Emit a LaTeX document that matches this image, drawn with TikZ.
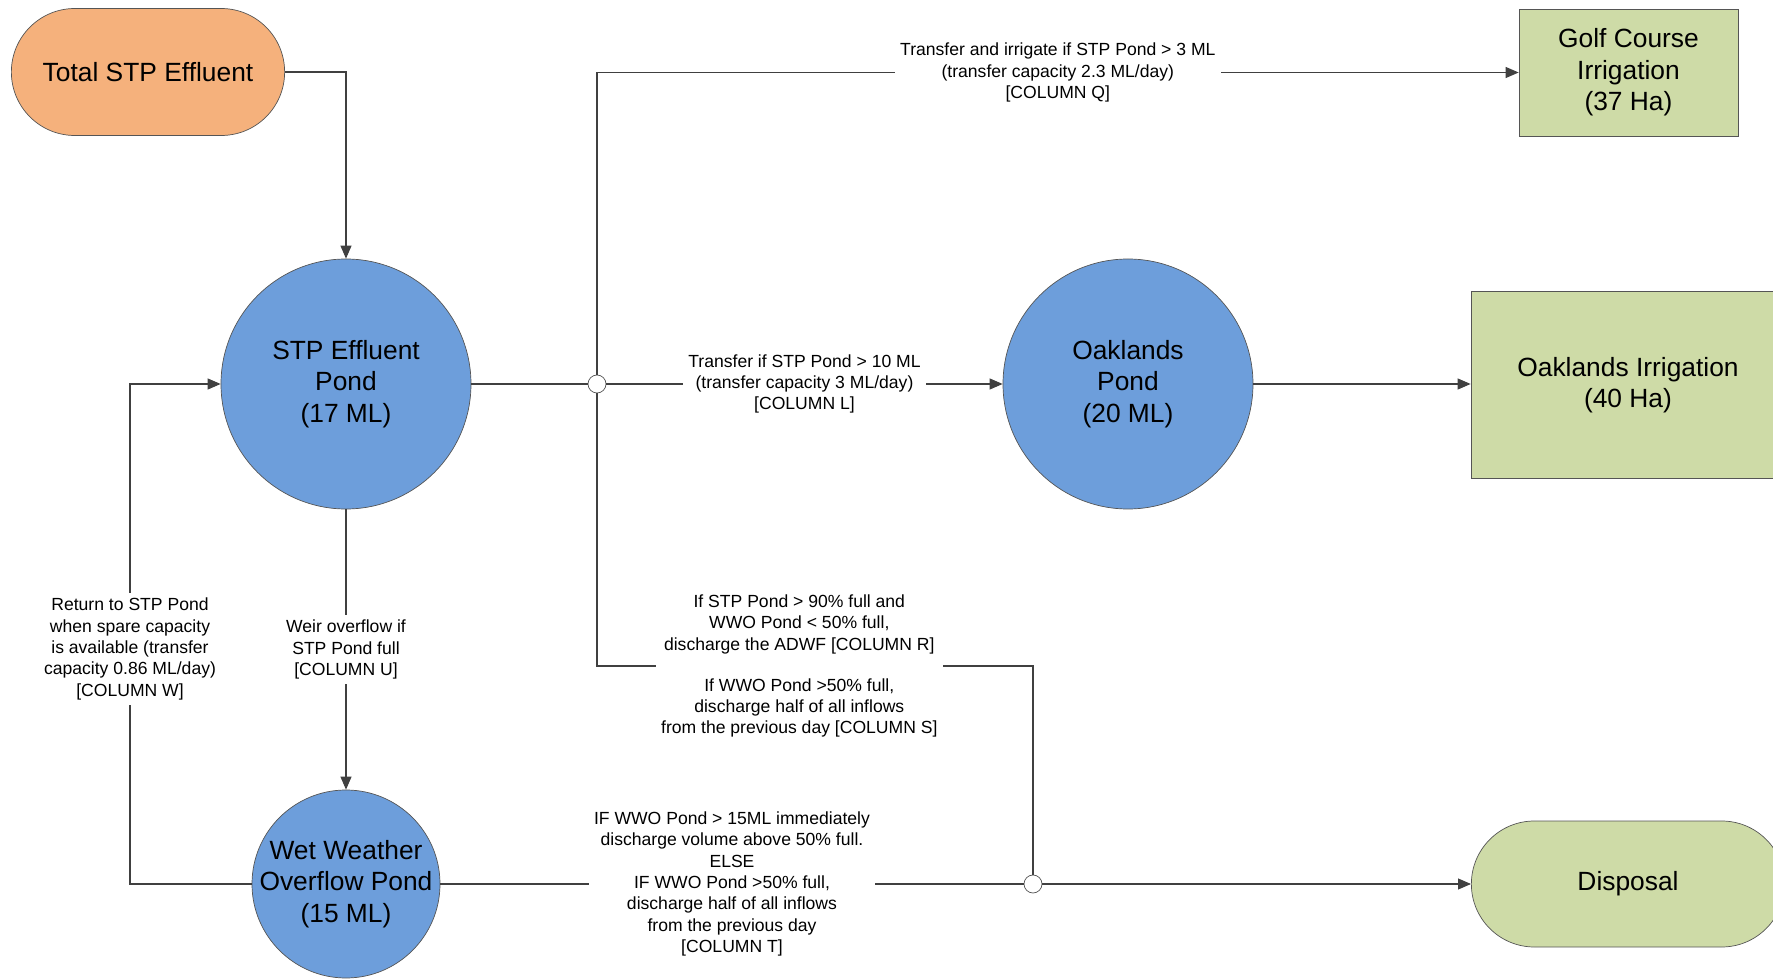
\documentclass[tikz,border=0pt]{standalone}
\usepackage{fontspec}
\setmainfont{Liberation Sans}
\usetikzlibrary{arrows.meta,shapes.misc}

\definecolor{effluent}{HTML}{F5B17C}
\definecolor{pondblue}{HTML}{6D9EDB}
\definecolor{irrig}{HTML}{CEDBA7}
\definecolor{edge}{HTML}{555555}

\begin{document}
\begin{tikzpicture}[
    bigtext/.style={font=\fontsize{15}{18}\selectfont, align=center},
    note/.style={font=\fontsize{10}{12.2}\selectfont, align=center, fill=white, inner sep=3pt},
    pondnode/.style={draw=edge, circle, fill=pondblue, bigtext, inner sep=0pt},
    endnode/.style={draw=edge, rounded rectangle, bigtext},
    areanode/.style={draw=edge, rectangle, fill=irrig, bigtext},
    junction/.style={draw=edge, circle, fill=white, minimum size=0.36cm, inner sep=0pt},
    flow/.style={draw=black!75, line width=0.6pt, -{Triangle[length=0.26cm,width=0.22cm]}},
    pipe/.style={draw=black!75, line width=0.6pt}
  ]
  \clip (0,0) rectangle (35.46,-19.58);

  % source and ponds
  \node[endnode, fill=effluent, minimum width=5.7cm, minimum height=2.54cm] (total) at (2.96,-1.44) {Total STP Effluent};
  \node[pondnode, minimum size=5.0cm] (stp) at (6.92,-7.68) {STP Effluent\\Pond\\(17 ML)};
  \node[pondnode, minimum size=5.0cm] (oak) at (22.56,-7.68) {Oaklands\\Pond\\(20 ML)};
  \node[pondnode, minimum size=3.76cm, inner sep=-2.5pt] (wwo) at (6.92,-17.68) {Wet Weather\\Overflow Pond\\(15 ML)};

  % destinations
  \node[areanode, minimum width=4.38cm, minimum height=2.54cm] (golf) at (32.57,-1.45) {Golf Course\\Irrigation\\(37 Ha)};
  \node[areanode, minimum width=6.28cm, minimum height=3.74cm] (oakirr) at (32.56,-7.70) {Oaklands Irrigation\\(40 Ha)};
  \node[endnode, fill=irrig, minimum width=6.5cm, minimum height=2.52cm] (disp) at (32.56,-17.68) {Disposal};

  % junctions and bends
  \node[junction] (j1) at (11.94,-7.68) {};
  \node[junction] (j2) at (20.66,-17.68) {};
  \coordinate (ret) at (2.6,-17.68);
  \coordinate (bend) at (11.94,-13.32);

  \draw[flow] (total.east) -| (stp.north);
  \draw[pipe] (stp.east) -- (j1.west);
  \draw[flow] (j1.east) -- node[note] {Transfer if STP Pond > 10 ML\\(transfer capacity 3 ML/day)\\{[COLUMN L]}} (oak.west);
  \draw[flow] (j1.north) |- node[note, pos=0.75] {Transfer and irrigate if STP Pond > 3 ML\\(transfer capacity 2.3 ML/day)\\{[COLUMN Q]}} (golf.west);
  \draw[flow] (oak.east) -- (oak.east -| oakirr.west);
  \draw[flow] (stp.south) -- node[note] {Weir overflow if\\STP Pond full\\{[COLUMN U]}} (wwo.north);
  \draw[flow] (wwo.west) -- (ret) -- node[note, pos=0.47] {Return to STP Pond\\when spare capacity\\is available (transfer\\capacity 0.86 ML/day)\\{[COLUMN W]}} (ret |- stp.west) -- (stp.west);
  \draw[pipe] (j1.south) -- (bend) -- node[note, pos=0.464] {If STP Pond > 90\% full and\\WWO Pond < 50\% full,\\discharge the ADWF [COLUMN R]\\[0.39cm]If WWO Pond >50\% full,\\discharge half of all inflows\\from the previous day [COLUMN S]} (bend -| j2) -- (j2.north);
  \draw[pipe] (wwo.east) -- node[note] {IF WWO Pond > 15ML immediately\\discharge volume above 50\% full.\\ELSE\\IF WWO Pond >50\% full,\\discharge half of all inflows\\from the previous day\\{[COLUMN T]}} (j2.west);
  \draw[flow] (j2.east) -- (disp.west);
\end{tikzpicture}
\end{document}
